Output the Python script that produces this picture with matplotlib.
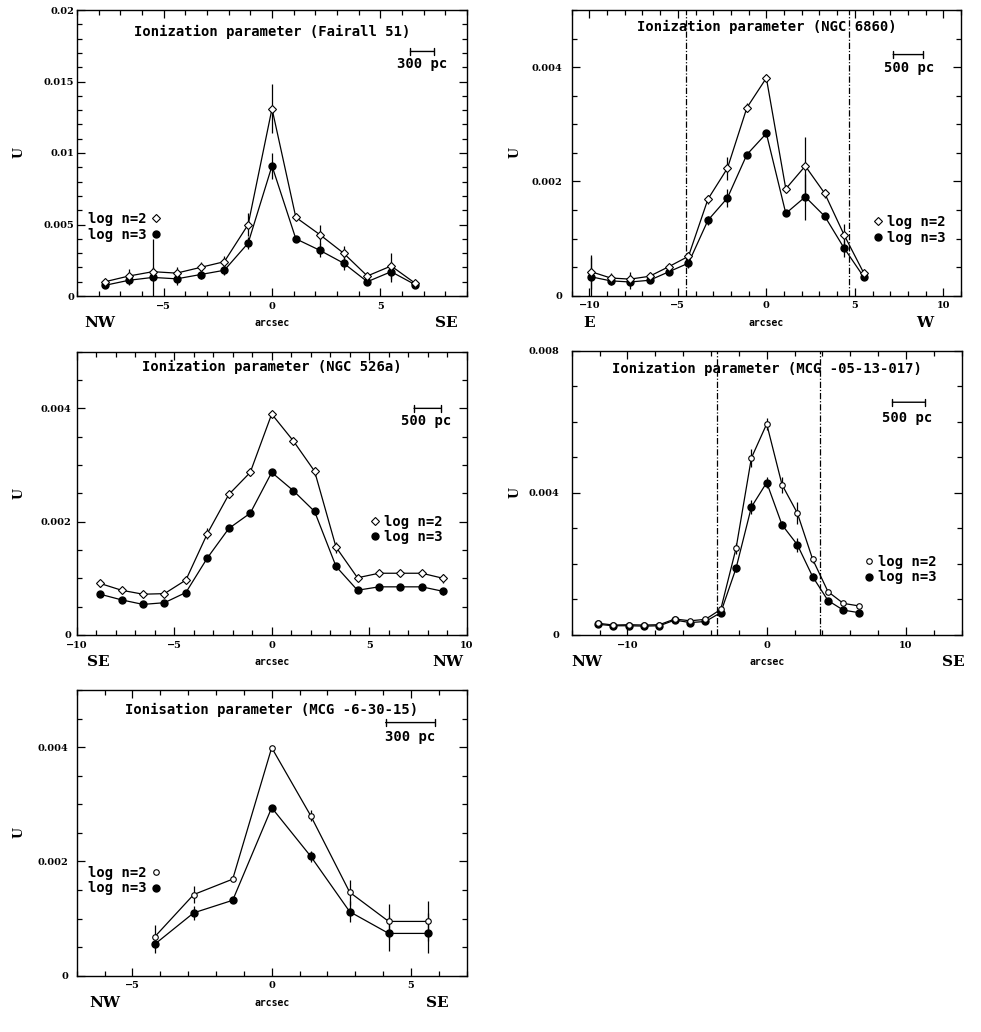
import matplotlib
matplotlib.use('Agg')
import matplotlib.pyplot as plt
from matplotlib.ticker import MultipleLocator, FixedLocator, FixedFormatter
from matplotlib.lines import Line2D
from matplotlib.transforms import offset_copy

# ---------------- data ----------------
# Fairall 51
f51_x = [-7.7, -6.6, -5.5, -4.4, -3.3, -2.2, -1.1, 0.0, 1.1, 2.2, 3.3, 4.4, 5.5, 6.6]
f51_u2 = [0.0010, 0.0014, 0.0017, 0.0016, 0.0020, 0.0024, 0.0050, 0.0131, 0.0055, 0.0043, 0.0030, 0.0014, 0.0021, 0.0009]
f51_e2 = [0.0002, 0.0005, 0.0003, 0.0004, 0.0004, 0.0004, 0.0008, 0.0017, 0.0002, 0.0007, 0.0005, 0.0002, 0.0009, 0.0001]
f51_u3 = [0.00075, 0.0011, 0.0013, 0.0012, 0.0015, 0.0018, 0.0037, 0.0091, 0.0040, 0.0032, 0.0023, 0.0010, 0.0017, 0.0008]
f51_e3 = [0.0002, 0.0003, 0.0027, 0.0004, 0.0003, 0.0003, 0.0004, 0.0009, 0.0001, 0.0005, 0.0005, 0.0002, 0.0007, 0.0001]

# NGC 6860
n6860_x = [-9.9, -8.8, -7.7, -6.6, -5.5, -4.4, -3.3, -2.2, -1.1, 0.0, 1.1, 2.2, 3.3, 4.4, 5.5]
n6860_u2 = [0.00042, 0.00031, 0.00029, 0.00034, 0.00051, 0.00069, 0.00169, 0.00223, 0.00329, 0.00381, 0.00187, 0.00227, 0.00179, 0.00106, 0.00040]
n6860_e2 = [0.0003, 0.00008, 0.00012, 0.00005, 0.00005, 0.00008, 0.00008, 0.0002, 0.00008, 0.00005, 0.00005, 0.0005, 0.00008, 0.0002, 0.00005]
n6860_u3 = [0.00033, 0.00026, 0.00024, 0.00027, 0.00042, 0.00057, 0.00132, 0.00171, 0.00247, 0.00284, 0.00144, 0.00173, 0.00139, 0.00083, 0.00033]
n6860_e3 = [0.00035, 0.00008, 0.00012, 0.00005, 0.00005, 0.00008, 0.00008, 0.00015, 0.00005, 0.00005, 0.00005, 0.0004, 0.00005, 0.00015, 0.00005]
n6860_vlines = [-4.56, 4.67]

# NGC 526a
n526_x = [-8.8, -7.7, -6.6, -5.5, -4.4, -3.3, -2.2, -1.1, 0.0, 1.1, 2.2, 3.3, 4.4, 5.5, 6.6, 7.7, 8.8]
n526_u2 = [0.00091, 0.00079, 0.00072, 0.00073, 0.00097, 0.00179, 0.00248, 0.00287, 0.00390, 0.00343, 0.00289, 0.00155, 0.00101, 0.00109, 0.00109, 0.00109, 0.00100]
n526_e2 = [0.00006, 0.00005, 0.00005, 0.00005, 0.00005, 0.0001, 0.00006, 0.00006, 0.00006, 0.00006, 0.00008, 0.0001, 0.00005, 0.00005, 0.00005, 0.00005, 0.00008]
n526_u3 = [0.00072, 0.00062, 0.00054, 0.00057, 0.00075, 0.00136, 0.00188, 0.00215, 0.00287, 0.00255, 0.00218, 0.00121, 0.00079, 0.00085, 0.00085, 0.00085, 0.00077]
n526_e3 = [0.00005, 0.00005, 0.00005, 0.00005, 0.00005, 0.00006, 0.00005, 0.00005, 0.00006, 0.00005, 0.00006, 0.00006, 0.00005, 0.00005, 0.00005, 0.00005, 0.00006]

# MCG -05-13-017
m05_x = [-12.1, -11.0, -9.9, -8.8, -7.7, -6.6, -5.5, -4.4, -3.3, -2.2, -1.1, 0.0, 1.1, 2.2, 3.3, 4.4, 5.5, 6.6]
m05_u2 = [0.00033, 0.00028, 0.00029, 0.00028, 0.00029, 0.00045, 0.00040, 0.00044, 0.00072, 0.00244, 0.00498, 0.00594, 0.00423, 0.00343, 0.00213, 0.00122, 0.00089, 0.00082]
m05_e2 = [0.00005, 0.00005, 0.00005, 0.00005, 0.00005, 0.00005, 0.00005, 0.00005, 0.00008, 0.00015, 0.00025, 0.00018, 0.00023, 0.0003, 0.0001, 0.00005, 0.00005, 0.00005]
m05_u3 = [0.00030, 0.00026, 0.00026, 0.00025, 0.00026, 0.00042, 0.00035, 0.00038, 0.00063, 0.00188, 0.00360, 0.00429, 0.00310, 0.00254, 0.00164, 0.00097, 0.00070, 0.00063]
m05_e3 = [0.00005, 0.00005, 0.00005, 0.00005, 0.00005, 0.00005, 0.00005, 0.00005, 0.00008, 0.0001, 0.0002, 0.00015, 0.0001, 0.0002, 0.0001, 0.00005, 0.00005, 0.00005]
m05_vlines = [-3.59, 3.83]

# MCG -6-30-15
m6_x = [-4.2, -2.8, -1.4, 0.0, 1.4, 2.8, 4.2, 5.6]
m6_u2 = [0.00068, 0.00142, 0.00169, 0.00399, 0.00280, 0.00146, 0.00095, 0.00095]
m6_e2 = [0.0002, 0.00015, 0.00003, 0.00003, 0.0001, 0.00022, 0.0003, 0.00035]
m6_u3 = [0.00055, 0.00110, 0.00132, 0.00294, 0.00209, 0.00112, 0.00074, 0.00074]
m6_e3 = [0.00015, 0.00012, 0.00003, 0.00003, 0.0001, 0.00018, 0.0003, 0.00035]

legend_labels = ['log n=2', 'log n=3']

# ---------------- figure ----------------
W, H = 981, 1032
fig = plt.figure(figsize=(W / 100, H / 100), dpi=100)

MONO = 'DejaVu Sans Mono'
SERIF = 'DejaVu Serif'

panels = [
    dict(rect=(77, 10, 467, 296), title='Ionization parameter (Fairall 51)', title_y=0.923,
         x=f51_x, u2=f51_u2, e2=f51_e2, u3=f51_u3, e3=f51_e3,
         xlim=(-9, 9), ylim=(0, 0.02), xmaj=[-5, 0, 5], xlab=['\u22125', '0', '5'], xmin=1,
         ymaj=[0, 0.005, 0.01, 0.015, 0.02], ylab=['0', '0.005', '0.01', '0.015', '0.02'], ymin=0.001,
         left='NW', right='SE', lx=0.059, rx=0.946, vlines=[], ulab_px=19,
         bar=(6.39, 7.47, 0.0171), bar_text=(6.93, 0.0162, '300 pc'),
         leg=(0.028, 0.294), markerfirst=False, omark='D', ypad=2),
    dict(rect=(571.7, 10, 961, 295.7), title='Ionization parameter (NGC 6860)', title_y=0.94,
         x=n6860_x, u2=n6860_u2, e2=n6860_e2, u3=n6860_u3, e3=n6860_e3,
         xlim=(-11, 11), ylim=(0, 0.005), xmaj=[-10, -5, 0, 5, 10],
         xlab=['\u221210', '\u22125', '0', '5', '10'], xmin=1,
         ymaj=[0, 0.002, 0.004], ylab=['0', '0.002', '0.004'], ymin=0.0005,
         left='E', right='W', lx=0.044, rx=0.908, vlines=n6860_vlines, ulab_px=515,
         bar=(7.17, 8.86, 0.00422), bar_text=(8.09, 0.00398, '500 pc'),
         leg=(0.775, 0.283), markerfirst=True, omark='D', ypad=7),
    dict(rect=(76.7, 351.7, 466.7, 635), title='Ionization parameter (NGC 526a)', title_y=0.945,
         x=n526_x, u2=n526_u2, e2=n526_e2, u3=n526_u3, e3=n526_e3,
         xlim=(-10, 10), ylim=(0, 0.005), xmaj=[-10, -5, 0, 5, 10],
         xlab=['\u221210', '\u22125', '0', '5', '10'], xmin=1,
         ymaj=[0, 0.002, 0.004], ylab=['0', '0.002', '0.004'], ymin=0.0005,
         left='SE', right='NW', lx=0.055, rx=0.951, vlines=[], ulab_px=19,
         bar=(7.3, 8.67, 0.0040), bar_text=(7.93, 0.00378, '500 pc'),
         leg=(0.752, 0.425), markerfirst=True, omark='D', ypad=4),
    dict(rect=(571.7, 350.7, 961.7, 635), title='Ionization parameter (MCG -05-13-017)', title_y=0.935,
         x=m05_x, u2=m05_u2, e2=m05_e2, u3=m05_u3, e3=m05_e3,
         xlim=(-14, 14), ylim=(0, 0.008), xmaj=[-10, 0, 10], xlab=['\u221210', '0', '10'], xmin=2,
         ymaj=[0, 0.004, 0.008], ylab=['0', '0.004', '0.008'], ymin=0.001,
         left='NW', right='SE', lx=0.039, rx=0.978, vlines=m05_vlines, ulab_px=515,
         bar=(9.03, 11.38, 0.00655), bar_text=(10.1, 0.0061, '500 pc'),
         leg=(0.750, 0.282), markerfirst=True, omark='o', ypad=9),
    dict(rect=(76.7, 690, 466.7, 975.7), title='Ionisation parameter (MCG -6-30-15)', title_y=0.93,
         x=m6_x, u2=m6_u2, e2=m6_e2, u3=m6_u3, e3=m6_e3,
         xlim=(-7, 7), ylim=(0, 0.005), xmaj=[-5, 0, 5], xlab=['\u22125', '0', '5'], xmin=1,
         ymaj=[0, 0.002, 0.004], ylab=['0', '0.002', '0.004'], ymin=0.0005,
         left='NW', right='SE', lx=0.073, rx=0.925, vlines=[], ulab_px=19,
         bar=(4.09, 5.85, 0.00443), bar_text=(4.98, 0.00418, '300 pc'),
         leg=(0.030, 0.385), markerfirst=False, omark='o', ypad=6),
]

for p in panels:
    l, t, r, b = p['rect']
    ax = fig.add_axes([l / W, 1 - b / H, (r - l) / W, (b - t) / H])
    for s in ax.spines.values():
        s.set_linewidth(1.0)
    ax.set_xlim(*p['xlim'])
    ax.set_ylim(*p['ylim'])

    # data
    ax.errorbar(p['x'], p['u3'], yerr=p['e3'], fmt='-', color='k', lw=0.9,
                elinewidth=0.9, capsize=0, marker='o', ms=5, mfc='k', mec='k', zorder=3)
    ax.errorbar(p['x'], p['u2'], yerr=p['e2'], fmt='-', color='k', lw=0.9,
                elinewidth=0.9, capsize=0, marker=p['omark'], ms=4, mfc='white',
                mec='k', mew=0.8, zorder=4)

    for v in p['vlines']:
        ax.axvline(v, color='k', lw=0.9, ls=(0, (5, 1.5, 1, 1.5)))

    # ticks
    ax.xaxis.set_major_locator(FixedLocator(p['xmaj']))
    ax.xaxis.set_major_formatter(FixedFormatter(p['xlab']))
    ax.xaxis.set_minor_locator(MultipleLocator(p['xmin']))
    ax.yaxis.set_major_locator(FixedLocator(p['ymaj']))
    ax.yaxis.set_major_formatter(FixedFormatter(p['ylab']))
    ax.yaxis.set_minor_locator(MultipleLocator(p['ymin']))
    ax.tick_params(which='both', direction='in', top=True, right=True, width=0.9)
    ax.tick_params(which='major', length=5.5)
    ax.tick_params(which='minor', length=3.5)
    ax.tick_params(axis='x', which='major', pad=4)
    ax.tick_params(axis='y', which='major', pad=p['ypad'])
    for lab in ax.get_xticklabels() + ax.get_yticklabels():
        lab.set_fontfamily(SERIF)
        lab.set_fontweight('bold')
        lab.set_fontsize(7)

    # y label "U"
    ax.text((p['ulab_px'] - l) / (r - l), 0.5, 'U', transform=ax.transAxes, rotation=90,
            ha='center', va='center', fontfamily=SERIF, fontweight='bold', fontsize=9)

    # bottom labels
    off = offset_copy(ax.transAxes, fig=fig, x=0, y=-27, units='dots')
    ax.text(0.5, 0, 'arcsec', transform=off, ha='center', va='center',
            fontfamily=MONO, fontweight='bold', fontsize=7)
    ax.text(p['lx'], 0, p['left'], transform=off, ha='center', va='center',
            fontfamily=SERIF, fontweight='bold', fontsize=11)
    ax.text(p['rx'], 0, p['right'], transform=off, ha='center', va='center',
            fontfamily=SERIF, fontweight='bold', fontsize=11)

    # title inside the frame
    ax.text(0.5, p['title_y'], p['title'], transform=ax.transAxes, ha='center', va='center',
            fontfamily=MONO, fontweight='bold', fontsize=10)

    # scale bar
    x0, x1, yb = p['bar']
    ax.annotate('', xy=(x1, yb), xytext=(x0, yb),
                arrowprops=dict(arrowstyle='|-|, widthA=0.25, widthB=0.25', lw=1.0,
                                color='k', shrinkA=0, shrinkB=0))
    tx, ty, tt = p['bar_text']
    ax.text(tx, ty, tt, ha='center', va='center', fontfamily=MONO, fontweight='bold', fontsize=10)

    # legend
    h2 = Line2D([], [], ls='none', marker=p['omark'], ms=4, mfc='white', mec='k', mew=0.8)
    h3 = Line2D([], [], ls='none', marker='o', ms=5, mfc='k', mec='k')
    ax.legend([h2, h3], legend_labels, loc='upper left', bbox_to_anchor=p['leg'],
              bbox_transform=ax.transAxes, borderaxespad=0, borderpad=0, frameon=False,
              handlelength=0.7, handletextpad=0.3, labelspacing=0.12,
              markerfirst=p['markerfirst'],
              prop=dict(family=MONO, weight='bold', size=10))

fig.savefig('out.png', dpi=100)
